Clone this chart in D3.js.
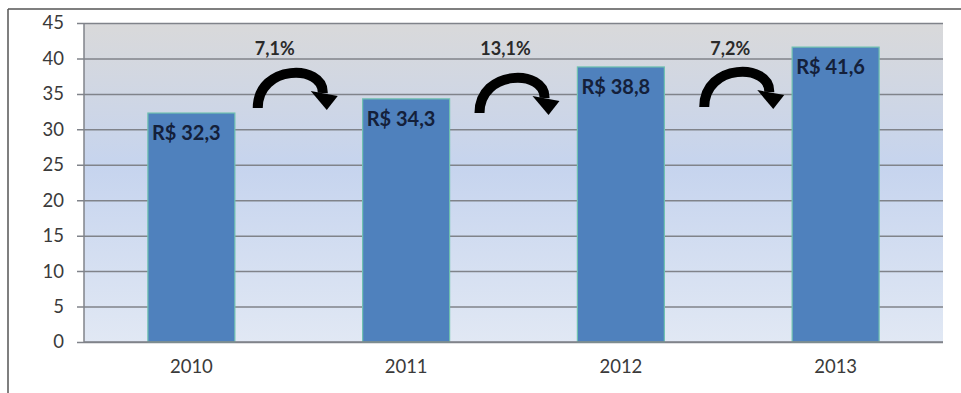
<!DOCTYPE html>
<html>
<head>
<meta charset="utf-8">
<script src="https://cdn.jsdelivr.net/npm/d3@7"></script>
<style>
  html, body { margin: 0; padding: 0; background: #ffffff; }
  svg { display: block; }
</style>
</head>
<body>
<div id="chart"></div>
<script>
// ---- data ----
const categories = ["2010", "2011", "2012", "2013"];
const values = [32.3, 34.3, 38.8, 41.6];
const valueLabels = ["R$ 32,3", "R$ 34,3", "R$ 38,8", "R$ 41,6"];
const growthLabels = ["7,1%", "13,1%", "7,2%"];
const yTicks = [0, 5, 10, 15, 20, 25, 30, 35, 40, 45];

// ---- layout ----
const W = 961, H = 393;
const plot = { left: 84, right: 943, top: 23, bottom: 342 };

const svg = d3.select("#chart").append("svg")
  .attr("width", W).attr("height", H);

const defs = svg.append("defs");
const grad = defs.append("linearGradient")
  .attr("id", "bg").attr("x1", 0).attr("y1", 0).attr("x2", 0).attr("y2", 1);
grad.append("stop").attr("offset", "0%").attr("stop-color", "#d9d9da");
grad.append("stop").attr("offset", "45%").attr("stop-color", "#c6d4ee");
grad.append("stop").attr("offset", "100%").attr("stop-color", "#e1e8f4");

// outer frame (top and left edges visible)
svg.append("line").attr("x1", 8).attr("x2", W).attr("y1", 9).attr("y2", 9)
  .attr("stroke", "#555").attr("stroke-width", 1.5);
svg.append("line").attr("x1", 8).attr("x2", 8).attr("y1", 9).attr("y2", H)
  .attr("stroke", "#555").attr("stroke-width", 1.5);

const x = d3.scaleBand()
  .domain(categories)
  .range([plot.left, plot.right])
  .paddingInner(0.595)
  .paddingOuter(0.2975);

const y = d3.scaleLinear()
  .domain([0, 45])
  .range([plot.bottom, plot.top]);

// plot background
svg.append("rect")
  .attr("x", plot.left).attr("y", plot.top)
  .attr("width", plot.right - plot.left).attr("height", plot.bottom - plot.top)
  .attr("fill", "url(#bg)");

// y axis with gridlines
const yAxis = d3.axisLeft(y)
  .tickValues(yTicks)
  .tickSize(-(plot.right - plot.left) - 7)
  .tickPadding(12)
  .tickFormat(d3.format("d"));

const gy = svg.append("g")
  .attr("transform", `translate(${plot.right},0)`)
  .call(yAxis);
gy.select(".domain").remove();
gy.selectAll(".tick line")
  .attr("x1", 0)
  .attr("x2", -(plot.right - plot.left) - 7)
  .attr("stroke", "#80838a").attr("stroke-width", 1.5);
gy.selectAll(".tick text")
  .attr("x", -(plot.right - plot.left) - 20)
  .attr("font-family", "Lato, 'Open Sans', sans-serif")
  .attr("font-size", 18.5)
  .attr("fill", "#3a3a3a");

// vertical axis line
svg.append("line")
  .attr("x1", plot.left).attr("x2", plot.left)
  .attr("y1", plot.top).attr("y2", plot.bottom)
  .attr("stroke", "#80838a").attr("stroke-width", 1.5);

// x axis
const xAxis = d3.axisBottom(x).tickSize(0).tickPadding(18);
const gx = svg.append("g")
  .attr("transform", `translate(0,${plot.bottom})`)
  .call(xAxis);
gx.select(".domain").remove();
gx.selectAll(".tick text")
  .attr("font-family", "Lato, 'Open Sans', sans-serif")
  .attr("font-size", 18.5)
  .attr("fill", "#3a3a3a");

// bars
svg.append("g").selectAll("rect")
  .data(categories)
  .join("rect")
  .attr("x", (d) => x(d))
  .attr("y", (d, i) => y(values[i]))
  .attr("width", x.bandwidth())
  .attr("height", (d, i) => y(0) - y(values[i]))
  .attr("fill", "#4f81bd")
  .attr("stroke", "#6fc1b0")
  .attr("stroke-width", 1.2);

// baseline
svg.append("line")
  .attr("x1", plot.left).attr("x2", plot.right)
  .attr("y1", y(0)).attr("y2", y(0))
  .attr("stroke", "#80838a").attr("stroke-width", 1.5);

// value labels inside bars
svg.append("g").selectAll("text")
  .data(categories)
  .join("text")
  .attr("x", (d) => x(d) + 4)
  .attr("y", (d, i) => y(values[i]) + 27)
  .attr("font-family", "Lato, 'Open Sans', sans-serif")
  .attr("font-weight", "bold")
  .attr("font-size", 20)
  .attr("fill", "#14203a")
  .text((d, i) => valueLabels[i]);

// growth arrows between bars
const arrowOffsets = [
  { dx: -7, base: 108, lx: -24 },
  { dx: 0, base: 113, lx: -8 },
  { dx: 10, base: 107, lx: 2 }
];
const arrowG = svg.append("g");
growthLabels.forEach((lab, i) => {
  const bx = (x(categories[i]) + x.bandwidth() + x(categories[i + 1])) / 2;
  const o = arrowOffsets[i];
  const cx = bx + o.dx, b = o.base;
  const g = arrowG.append("g").attr("transform", `translate(${cx},${b})`);
  g.append("path")
    .attr("d", "M -34 0 C -34 -44, 32 -44, 31 -15")
    .attr("fill", "none")
    .attr("stroke", "#000")
    .attr("stroke-width", 10);
  g.append("path")
    .attr("d", "M 19 -17 L 46 -12 L 35 2 Z")
    .attr("fill", "#000");
  svg.append("text")
    .attr("x", bx + o.lx)
    .attr("y", 55)
    .attr("text-anchor", "middle")
    .attr("font-family", "Lato, 'Open Sans', sans-serif")
    .attr("font-weight", "bold")
    .attr("font-size", 18)
    .attr("fill", "#2a2a2a")
    .text(lab);
});
</script>
</body>
</html>
